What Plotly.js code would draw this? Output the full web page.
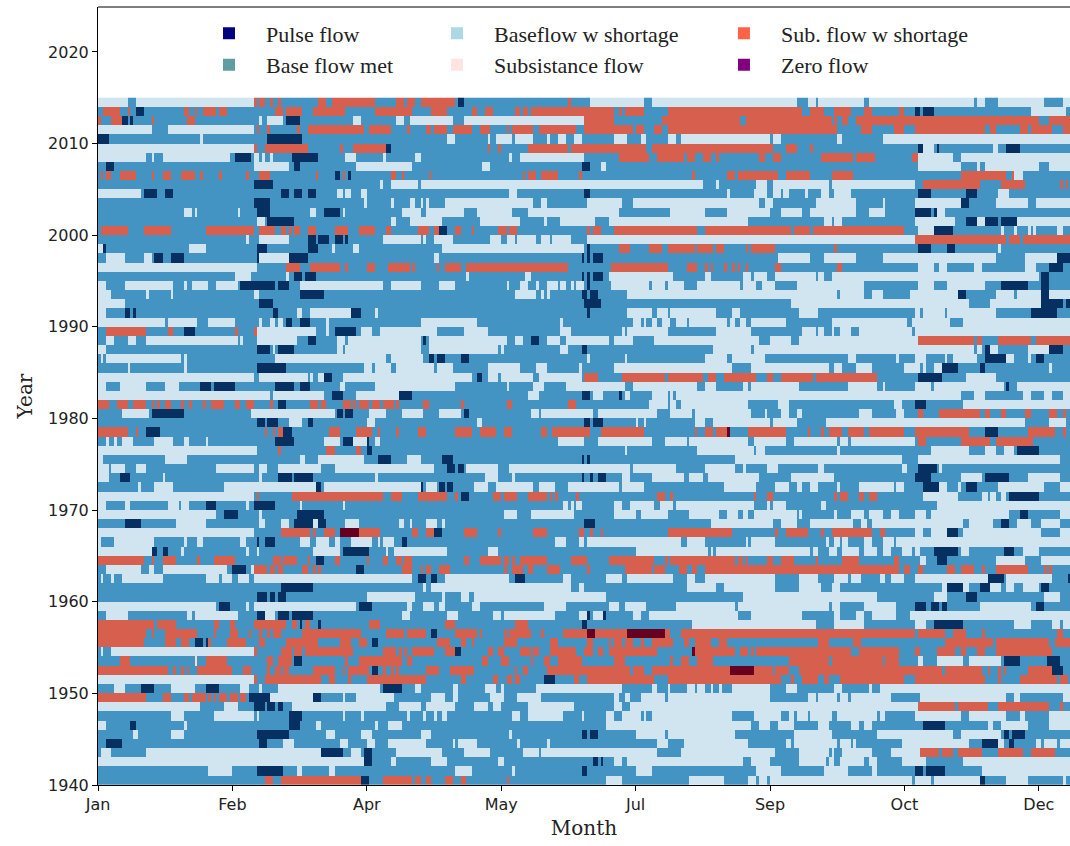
<!DOCTYPE html>
<html><head><meta charset="utf-8">
<script src="https://cdn.plot.ly/plotly-3.0.1.min.js"></script>
<style>html,body{margin:0;padding:0;background:#fff;overflow:hidden}</style></head>
<body><div id="chart" style="width:1070px;height:846px"></div>
<script>
const monthTickDays=[0,50,100,150,200,250,300,350];
const monthTickLabels=["Jan","Feb","Apr","May","Jul","Sep","Oct","Dec"];
const yearTicks=[1940,1950,1960,1970,1980,1990,2000,2010,2020];
const flowNames=["Pulse flow","Base flow met","Baseflow w shortage","Subsistance flow","Sub. flow w shortage","Zero flow"];
const swatchColors=["#000080","#5f9ea0","#add8e6","#ffe4e1","#ff6347","#800080"];
const cellColors=["#053061","#4393c3","#d1e5f0","#fddbc7","#d6604d","#67001f"];
// Flow class per day of year, by year. Days not listed are base flow met.
// N pulse, L baseflow w shortage, P subsistance, S sub. flow w shortage, D zero flow.
const yearsDescending=[];for(let y=2014;y>=1940;y--)yearsDescending.push(y);
const dayRuns=[
"L0-11 L14-58 S58-59 S60-62 S64-65 S67-68 S82-85 S87-103 S111-114 S115-118 S120-133 N134-136 S175-176 L183-203 L206-260 L264-267 L268-285 L287-326 L327-330 L335-352 L359-362",
"S2-8 S11-12 N14-17 S32-34 S36-37 S39-44 S45-48 S66-69 S70-76 S80-92 S103-117 S124-130 S139-141 S144-147 S155-157 S158-160 S161-192 S194-195 S196-203 S212-262 S265-270 S274-277 S277-280 S285-288 S298-300 N304-306 N307-311 L347-360",
"S0-1 S5-9 N9-11 N12-13 S20-21 S33-36 L60-61 L63-69 N70-75 L95-98 L111-114 L116-132 L136-181 S181-192 S210-239 S241-273 S274-275 S277-279 S282-350 S354-362",
"L0-20 L26-58 S59-60 S63-64 S74-75 S78-99 S101-109 S115-116 S122-124 S125-130 S132-139 S142-146 S152-153 S154-162 S164-178 S181-199 S200-203 S207-210 S212-275 S284-288 S296-300 S304-330 S332-334 S343-346 S347-355 S359-362",
"N0-4 L38-39 N63-76 L130-133 L145-146 L148-154 L155-162 L167-168 L171-174 L177-180 L192-197 L202-204 L212-215 L217-250 L251-254 L275-277 L292-362",
"L0-58 S58-59 S62-78 S90-91 S95-107 N107-109 S145-146 S149-150 S160-175 S176-204 S206-251 S256-260 S265-266 N305-307 L307-311 N312-313 L333-335 N338-343",
"L0-18 L20-21 L24-49 N51-57 L58-60 L61-62 L64-65 N72-82 L92-96 L106-107 L118-120 L153-154 L157-181 S194-205 S208-218 S219-222 S225-228 S230-231 S246-248 S251-254 S269-281 S282-289 S303-305 L305-318 L321-362",
"N3-6 L58-71 N73-75 L96-117 L143-146 N180-183 L187-189 L305-321 L327-328 L330-350 L354-362",
"S1-2 S3-5 S8-14 S20-21 S24-27 S31-36 S38-39 S45-46 S55-56 S60-64 S81-82 N88-90 S91-92 N93-94 S109-111 S113-114 S123-124 S158-159 S160-163 S165-171 S179-180 S221-222 S234-237 S238-253 S256-265 S273-281 S321-338 S340-341 L341-344",
"N58-65 L105-106 L109-119 L120-225 L230-231 L245-249 L251-272 L273-304 S307-321 S321-328 S336-345 S358-359 S360-361",
"L0-16 N17-22 N25-28 N68-71 N73-76 N78-81 L89-91 L92-94 L98-100 L153-156 N181-183 L234-235 L244-249 L251-254 L255-257 L263-264 L269-272 L274-280 N305-310 N323-327 L335-339",
"N58-64 L99-100 L109-110 L116-118 L120-121 L122-123 L129-162 L165-167 L182-195 L199-246 L248-251 L267-282 L292-293 L304-321 N321-324 L334-346 L349-362",
"L32-35 L36-37 L52-53 N59-64 L79-81 N84-90 L91-92 L113-120 L122-136 L141-154 L160-194 L213-226 L234-250 L254-262 L265-282 L287-293 N304-310 N311-312 L312-315",
"L59-62 N63-73 L109-111 L116-128 L142-157 L166-167 L172-185 L190-242 L270-273 L274-277 L304-319 N323-327 L327-330 N330-335 N336-342 L342-362",
"S1-2 S2-11 S17-27 S40-58 S60-66 S68-70 S71-72 S73-75 S78-81 S88-93 S97-103 S107-109 S119-123 S125-127 N127-130 S133-135 S139-140 S149-152 S153-156 S182-183 S184-187 S192-223 S226-258 S259-265 S266-293 S293-300 L305-311 N311-318 L336-337 L341-342 L346-347 L348-349 L357-359",
"L55-56 L60-71 N78-81 N82-86 N88-91 N92-93 L106-120 L121-122 L125-132 L146-150 L152-155 L156-163 L165-168 L169-176 L182-304 S304-338 S339-343 S344-362",
"L0-2 N2-3 L34-40 N59-63 N78-82 L87-88 L95-97 L128-181 N182-183 S194-198 S205-210 S212-222 S223-229 S230-233 S241-242 S243-252 S274-275 N305-310 N316-319 L335-336",
"L3-10 L17-20 N21-24 N27-32 N59-60 L60-71 N71-78 L125-127 N180-181 N182-183 N184-188 L253-265 L270-282 L292-334 L345-357 N357-362",
"L0-59 S70-75 S79-90 S92-93 S100-103 S108-116 S117-118 S126-127 S129-135 S137-175 S191-212 S219-223 S226-227 S228-229 S233-234 S236-237 S238-239 S241-242 S252-254 S275-277 L305-311 L313-316 L326-329 L345-349 N354-359",
"L51-57 L70-71 N73-76 N77-81 L137-138 L159-161 N180-181 N182-183 N184-188 L190-214 L226-228 L240-243 L244-249 L252-267 L268-270 L273-350 N351-354",
"L0-3 L10-28 L32-33 L35-41 L44-52 N53-66 N67-71 L75-106 L109-120 L127-133 L152-153 L157-160 L163-164 L167-171 L172-174 L176-177 L178-181 N182-183 L191-205 L206-211 L212-218 L223-239 L240-245 L247-252 L260-285 L305-311 L316-330 N336-346 N351-354",
"L0-5 L18-19 L27-28 L58-60 N75-84 L155-163 L165-166 L167-168 N180-182 N183-186 L197-275 L276-285 L288-292 L302-320 N320-323 L334-341 L342-351 N351-354 L354-362",
"L0-10 N60-65 N181-187 L258-324 L332-351 N351-359 N360-362",
"L0-3 N10-12 N13-14 N65-67 L74-76 L79-94 N94-98 L103-104 N182-183 L197-206 L208-212 L213-230 L236-239 L261-268 L304-306 L307-315 L316-334 N347-357",
"L0-25 L26-37 L41-51 L60-61 L64-66 L67-69 N70-72 N75-79 L85-86 L120-141 L172-173 L199-202 L203-204 L206-208 L210-213 L215-219 L220-234 L235-237 L239-241 L243-256 L273-301 L303-317 L322-362",
"S3-18 S26-28 N32-36 S51-52 S58-59 L59-81 L85-86 N88-96 L98-102 L105-126 L136-145 L172-176 L195-196 L197-212 L230-243 L262-267 L268-270 L273-274 L276-280 L283-303 L304-362",
"L3-6 L11-14 L18-52 L53-54 L59-74 N78-81 L89-92 L93-120 N121-122 L123-152 L155-158 N161-164 L167-172 L174-190 L192-199 L207-246 L250-258 L261-305 S305-326 S327-329 S335-347 S349-362",
"L0-3 N59-64 L65-66 N67-73 L89-91 L92-120 L123-145 L145-149 L150-151 L172-175 N180-182 L229-243 L244-326 L327-329 N330-332 L332-335 L346-354 N354-359",
"L1-2 L3-31 L32-33 L66-107 L109-121 N123-125 N126-129 N135-138 L182-183 L196-197 L226-234 L236-248 L279-282 L297-298 L304-308 L315-316 L318-327 N330-338 L338-341 L346-347 N349-352",
"L11-12 L32-33 N59-70 L99-102 L103-109 L111-125 L126-132 L145-157 L163-167 L179-180 L192-236 L243-272 L274-277 L282-288 L300-306 L307-308 L311-314 N314-320 N328-330 L354-355",
"L0-58 L60-78 L79-80 L82-84 N84-87 L91-139 N141-143 L145-149 L150-162 L164-180 S181-186 S195-211 S212-225 S227-230 S233-245 S249-251 S254-266 S267-290 N305-314 L323-334",
"L0-3 L8-18 L25-30 N38-42 N43-51 N66-73 N75-79 L90-92 L103-105 L105-133 L152-153 L162-166 L174-196 L199-223 L226-230 L240-242 L243-261 L279-290 L292-293 L304-310 L311-337 N338-339 L342-362",
"L0-64 L65-84 N87-91 L96-112 N112-117 L160-164 N180-183 L184-188 N194-195 L196-198 L206-212 L213-214 L215-321 L326-330 L344-347 L352-355 L359-362",
"S0-4 S7-11 S13-18 S20-21 S22-23 S25-27 S31-32 S34-35 S39-40 S42-47 S51-53 S55-58 S64-65 N67-70 S79-82 S83-85 S91-94 S95-96 S97-101 S102-105 S106-110 S111-112 S121-123 S135-136 S152-154 S175-178 L205-212 L213-215 L217-242 L253-257 L296-299 N304-308 L322-362",
"L9-19 N20-32 L57-88 N89-91 N92-95 L101-107 L113-121 L127-135 N136-138 L161-164 L165-184 L186-208 L213-221 L222-243 L248-249 L254-257 L260-262 L283-288 L297-300 S305-307 S313-328 S330-332 S336-338 S345-347 S354-357 S359-360",
"N59-62 N63-67 L71-76 N78-80 L100-103 L141-143 N181-182 N182-183 N184-188 L200-201 L203-204 L222-226 L229-250 L251-260 L271-345 L354-360",
"S0-11 S14-15 N18-23 S62-63 S65-66 S67-68 S68-69 N69-72 S86-90 S96-102 S104-105 S111-112 S119-122 S133-139 S142-148 S151-154 S165-167 S169-182 S182-183 S187-203 S222-223 S226-229 S230-234 D234-235 S242-256 S264-265 S269-270 S272-277 S279-285 S287-300 S304-324 N330-335 S346-356 S359-360",
"L3-4 L6-7 L9-13 L21-28 L32-34 L40-41 N66-73 L84-90 N91-95 L95-100 N100-101 L103-105 L171-181 L186-206 L211-219 L220-242 L244-256 L259-275 L276-279 L280-304 S305-308 S321-332 S334-347 S347-348",
"L0-59 S67-68 S85-88 S96-98 N100-102 L196-197 L223-244 L245-246 L246-248 L275-276 L310-324 L330-334 L337-341 N342-350",
"L0-2 L25-33 L75-77 L82-99 N104-109 L115-120 N128-132 N180-181 N182-183 L237-299 L305-307 L307-358",
"L0-4 L5-10 L14-18 L44-58 L60-63 L67-83 L88-125 N130-133 N134-136 L137-149 L153-198 L199-215 L226-237 L240-241 L249-253 L268-270 L299-301 N305-312 L313-314",
"L0-4 N8-12 L24-25 L60-61 N67-72 N73-80 L103-104 L144-149 L154-155 N180-181 N183-184 N186-189 L195-198 L206-218 L220-225 L227-246 L258-274 N304-310 L321-329 N330-339 L346-358",
"L15-16 L21-28 L47-81 N81-83 L84-120 N120-121 L122-126 N127-129 N130-132 L140-145 L148-162 L164-170 L175-194 L195-203 L233-245 L252-257 L260-262 L265-268 L275-276 L283-296 L297-300 N307-313 L313-316 L320-321 N323-327 L335-352 L358-362",
"L0-58 S59-60 S72-106 S109-113 S119-130 S133-134 N135-138 S147-150 S151-156 S160-167 S168-169 S170-171 S178-179 S208-211 S213-214 S244-245 S249-251 S274-275 S276-279 S283-285 S287-290 L307-320 L329-331 L332-334 L336-338 N339-350",
"L0-3 L10-12 L26-30 L31-34 N40-44 L55-56 N58-66 L75-76 L91-92 L173-175 L176-177 L178-180 L192-195 L198-207 L209-214 L215-244 L249-250 L251-256 L269-271 L312-362",
"L0-44 N47-52 L60-61 N74-84 L151-156 L161-177 L192-200 L202-212 L220-231 L234-238 L240-242 L244-260 L261-262 L274-275 L280-285 L287-292 L295-298 L304-308 L310-339 N343-346 L358-362",
"N10-16 L29-40 L60-62 L68-71 N73-80 L80-82 N82-85 L92-97 L112-114 L116-117 L122-126 L128-129 N181-185 L228-251 L254-260 L265-281 L284-286 L288-322 L324-333 N336-339 L342-347 L351-358",
"L0-58 S68-79 S80-81 S84-88 D90-97 S97-105 S117-119 S122-125 N125-128 S136-141 S149-150 S162-167 S179-181 S183-184 S187-188 S212-236 S252-253 S256-264 S269-270 S273-288 S291-293 L304-307 L310-316 N316-320 L322-351 L358-362",
"L0-1 L6-21 L32-33 L37-39 L53-55 N59-60 N62-66 L75-79 L81-86 L88-90 L94-102 L104-105 L106-110 N113-115 L170-174 L179-181 L182-217 L219-226 L241-242 L243-252 L271-272 L274-276 L277-279 L285-288 L292-296 L297-362",
"L0-20 N20-22 N24-26 L31-32 L55-56 L59-60 L80-90 N91-94 N94-101 L107-108 L110-120 L120-130 L145-149 L200-227 L228-229 L230-265 L266-268 L272-275 L277-283 L285-290 L292-295 L299-303 L304-306 N311-320 L321-324 N337-341 L344-350",
"S0-17 S20-21 S24-29 S37-38 S43-51 S65-66 S66-67 S67-68 S69-74 S78-79 N81-84 S88-90 S100-101 S106-108 S111-113 S114-117 S136-138 S142-150 S151-153 S154-155 S157-167 S176-182 S190-207 S211-212 S213-237 S238-240 S241-242 S249-251 S254-259 S267-268 S277-283 S296-298 L306-308 N312-316 L334-345 L351-362",
"L3-16 L19-21 L24-48 N50-55 L57-58 S58-63 S64-66 S67-69 S76-78 S80-81 S82-83 N96-99 S113-117 S120-121 S122-124 S127-131 S151-152 S154-158 S160-162 S167-172 S182-183 S196-206 S207-211 S216-219 S221-223 S226-298 S300-302 S305-307 S316-319 S321-326 S329-330 S334-346 S352-353 S354-355",
"L1-2 L5-6 L9-24 L40-45 L46-50 L52-56 L58-117 N119-122 N124-126 L129-153 N155-159 L173-176 L189-195 L197-214 L219-222 L226-252 L261-268 L274-279 L280-284 L291-293 L295-300 L304-331 N331-337 L338-355 N361-362",
"N68-80 L121-122 L124-176 L179-181 L219-230 L233-252 L261-269 L273-276 L314-316 N316-322 L322-324 N328-332 L332-336 L338-341 L344-350 N351-354",
"N59-63 N64-66 N67-70 L100-118 L128-129 L135-138 L140-186 L186-189 L240-290 L311-316 N323-327 L352-358",
"L0-44 N45-49 L55-56 L58-96 N97-102 L115-117 L121-125 L127-129 L139-142 L166-174 L190-194 L196-204 L215-237 L238-272 L273-276 L285-297 N304-308 N310-313 N314-316 L328-347 N349-352",
"L3-11 L33-35 L36-52 N59-62 L62-66 N67-71 N72-80 L113-116 L130-134 L147-150 L151-170 L179-182 N182-183 L184-188 N188-189 L199-202 L205-238 L243-262 L274-276 L282-285 L288-297 L302-321 L321-362",
"S0-21 S22-29 S43-45 S49-51 S58-70 S72-74 N75-76 S77-79 N82-83 S101-105 S129-133 S155-160 N180-182 L221-267 L274-285 L304-308 N311-322 L341-347 L355-358 L359-362",
"S0-18 S20-21 S25-37 S43-44 S49-52 S56-57 S60-61 S63-64 S65-68 S76-98 S107-114 S115-122 N124-126 S133-141 S142-143 S151-152 S153-156 S156-161 S165-166 S173-182 D182-185 S185-197 D197-211 S211-213 S217-304 S305-315 S318-323 S329-330 S357-359",
"S0-17 S25-29 S31-34 N36-39 N40-41 S41-42 S48-55 S60-62 S70-82 S90-94 S97-100 N102-104 S126-131 S135-137 S139-140 S151-156 S168-171 S182-184 S190-191 S192-195 S196-199 S202-203 S206-214 S218-220 S222-228 S231-234 S268-272 S281-284 S315-333 S334-354 S356-362",
"L1-2 L5-58 S58-59 S68-72 S73-76 S77-95 S106-111 S112-113 S114-115 S117-125 S129-133 N133-135 S145-147 S149-151 S157-161 S162-164 S168-178 S181-184 S186-188 S190-208 D221-222 S222-237 S239-242 S243-244 S245-246 S246-280 S283-298 S304-306 S312-319 S321-323 S327-330 S334-355",
"S8-12 P36-37 S40-48 S63-65 S67-72 N73-76 S92-93 S97-113 S115-117 S143-145 S150-153 S161-162 S166-168 S171-180 S192-196 S213-214 S217-220 S223-229 S257-272 S273-292 S293-298 L305-307 L312-322 L324-336 N337-343 N353-358",
"S0-26 S28-29 S31-32 S33-34 S37-50 S54-57 S63-64 S66-68 S69-71 S80-88 S91-92 S93-101 N102-104 S106-107 S109-110 S111-112 S122-127 S131-140 S155-156 S158-160 S167-198 S199-203 S206-235 D235-244 S244-251 S252-253 S253-257 S261-314 S315-329 S331-332 S335-336 S337-338 S346-355 N355-359",
"L0-58 S58-59 S62-83 S86-88 S93-94 S100-122 S135-137 S147-149 S152-154 S155-157 N166-170 S177-179 S182-207 S212-254 S258-259 S262-268 S270-272 S276-300 S304-330 S335-336 S343-357 S358-361",
"L6-10 N16-21 L27-36 N40-45 L53-56 L60-61 L67-105 N106-113 L118-120 L132-134 L144-148 L150-151 L163-195 L206-208 L212-213 L219-222 L223-226 L228-229 L231-232 L236-250 L256-260 L274-277 L287-288 L291-362",
"S0-18 S24-27 S32-34 S35-40 S41-42 S43-44 S45-48 S49-52 S53-55 N56-64 L64-80 N80-83 L91-92 L96-110 L124-129 L132-134 L146-151 L156-165 L192-194 L196-198 L202-211 L212-250 L264-267 L268-275 L276-279 L280-295 L306-308 L308-338 L341-343 L359-362",
"L0-38 L47-52 N58-62 N63-66 N67-69 L72-107 L112-120 L122-133 L140-145 L147-150 L160-177 L192-195 L198-305 S305-319 S320-331 S335-354 S358-359",
"L27-32 L43-58 L59-60 N71-76 L91-92 L98-99 L115-116 L121-122 L125-126 L128-130 L154-157 L160-173 L180-181 L189-192 L195-202 L203-204 L206-236 L244-254 L257-259 L260-264 L265-273 L275-290 L291-293 L304-321 L324-338 L343-345 L354-362",
"L0-3 N12-14 L32-33 N71-75 L81-83 L103-104 L108-113 L189-243 L246-250 L253-259 L268-272 L280-283 L285-288 N307-315 L331-333 L336-346 L354-362",
"L13-15 L27-32 N59-71 L85-88 L98-102 L120-124 L153-154 N180-182 N183-186 L200-211 L212-237 L259-273 L290-318 L321-336 N337-339 N340-345",
"N3-9 N60-63 L69-73 L90-93 L100-103 L108-122 L132-133 L134-141 L156-157 L167-168 L208-212 L218-242 L256-258 L259-275 L276-280 L281-282 L299-324 N329-335 L335-337 N339-341 L349-351 L352-357 L358-362",
"L1-5 L18-83 N83-91 L94-98 N99-102 L111-128 L136-146 L158-164 L165-195 L195-208 L217-252 L261-272 L273-274 L277-288 L295-306 S306-313 S314-318 S320-329 S335-344 S347-356",
"L0-99 N99-102 L109-111 L124-130 L149-151 N184-186 N187-188 L192-195 L197-240 L243-250 L261-271 L272-274 L276-285 L287-290 L299-308 L322-362",
"L41-50 N59-69 L74-76 L86-88 L133-139 L154-155 N180-182 L200-206 L245-254 L270-279 L288-290 N304-307 N308-315 L329-362",
"S62-65 S68-98 N98-101 S106-117 S118-120 S122-124 S129-132 S135-137 S152-153 L189-195 L220-233 L242-245 L246-249 L250-303 L304-310 L311-328 N328-330 L338-346 L359-360"
];
const flowLetters={N:0,L:2,P:3,S:4,D:5};
const dayEdges=[];for(let d=0;d<=365;d++)dayEdges.push(d);
const yearEdges=[];for(let y=1940;y<=2015;y++)yearEdges.push(y);
const zRows=yearsDescending.map((y,i)=>{
  const row=new Array(365).fill(1);
  dayRuns[i].split(" ").forEach(t=>{
    const m=t.match(/^([A-Z])(\d+)-(\d+)$/);
    const a=+m[2],b=Math.max(+m[3],a+1);
    for(let d=a;d<b&&d<365;d++)row[d]=flowLetters[m[1]];
  });
  return row;
}).reverse();
const n=cellColors.length;
const stepScale=[];cellColors.forEach((c,i)=>{stepScale.push([i/n,c]);stepScale.push([(i+1)/n,c]);});
const traces=[{type:"heatmap",x:dayEdges,y:yearEdges,z:zRows,zmin:-0.5,zmax:5.5,colorscale:stepScale,showscale:false,zsmooth:false,hoverinfo:"skip"}];
const legendOf=["legend","legend","legend2","legend2","legend3","legend3"];
flowNames.forEach((name,i)=>traces.push({type:"scatter",mode:"markers",x:[null],y:[null],name:name,legend:legendOf[i],legendgroup:name,
  marker:{symbol:"square",size:12,color:swatchColors[i]}}));
const legendFont={family:"Liberation Serif, serif",size:22,color:"#222"};
const mkLegend=(x)=>({x:x,y:0.993,xanchor:"left",yanchor:"top",xref:"paper",yref:"paper",bgcolor:"rgba(0,0,0,0)",font:legendFont,tracegroupgap:1,itemwidth:64,traceorder:"normal"});
const layout={width:1070,height:846,margin:{l:98,r:0,t:7,b:61},paper_bgcolor:"#fff",plot_bgcolor:"#fff",showlegend:true,
  legend:mkLegend(0.0967),legend2:mkLegend(0.3313),legend3:mkLegend(0.6265),
  xaxis:{range:[0,361.6],tickmode:"array",tickvals:monthTickDays,ticktext:monthTickLabels,ticks:"outside",ticklen:5,tickcolor:"#000",showgrid:false,zeroline:false,showline:true,linecolor:"#000",linewidth:1,
    tickfont:{family:"DejaVu Sans",size:16,color:"#222"},title:{text:"Month",font:{family:"DejaVu Serif",size:20,color:"#222"},standoff:7}},
  yaxis:{range:[1940,2024.9],tickmode:"array",tickvals:yearTicks,ticks:"outside",ticklen:5,tickcolor:"#000",showgrid:false,zeroline:false,showline:true,linecolor:"#000",linewidth:1,
    tickfont:{family:"DejaVu Sans",size:16,color:"#222"},title:{text:"Year",font:{family:"DejaVu Serif",size:20,color:"#222"},standoff:10}},
  shapes:[{type:"line",xref:"paper",yref:"paper",x0:0,x1:1,y0:1,y1:1,line:{color:"#000",width:1}}]};
Plotly.newPlot("chart",traces,layout,{displayModeBar:false,responsive:false});
</script></body></html>
